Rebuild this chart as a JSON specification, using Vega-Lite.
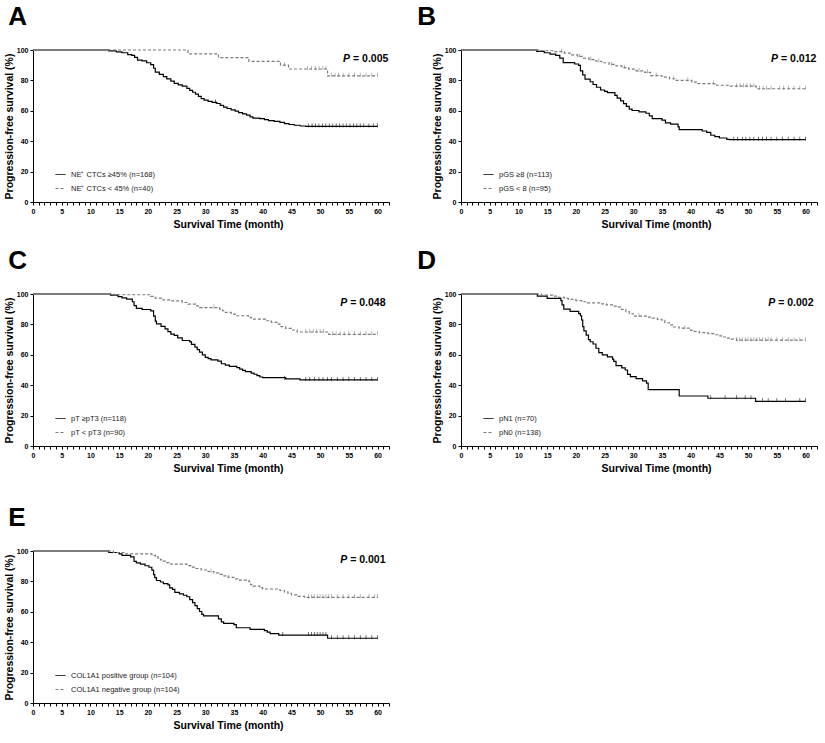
{
"$schema": "https://vega.github.io/schema/vega-lite/v6.json",
"padding": {"left": 4, "top": 4, "right": 4, "bottom": 4},
"background": "white",
"datasets": {
"km": [
{"p":"A","g":"NE⁺ CTCs ≥45% (n=168)","t":0,"s":100},{"p":"A","g":"NE⁺ CTCs ≥45% (n=168)","t":13.2,"s":99.4},{"p":"A","g":"NE⁺ CTCs ≥45% (n=168)","t":14.5,"s":98.8},{"p":"A","g":"NE⁺ CTCs ≥45% (n=168)","t":15.5,"s":98.2},{"p":"A","g":"NE⁺ CTCs ≥45% (n=168)","t":16.5,"s":97},{"p":"A","g":"NE⁺ CTCs ≥45% (n=168)","t":17.2,"s":96.4},{"p":"A","g":"NE⁺ CTCs ≥45% (n=168)","t":17.7,"s":95.2},{"p":"A","g":"NE⁺ CTCs ≥45% (n=168)","t":18.2,"s":93.4},{"p":"A","g":"NE⁺ CTCs ≥45% (n=168)","t":19,"s":92.8},{"p":"A","g":"NE⁺ CTCs ≥45% (n=168)","t":19.8,"s":91.6},{"p":"A","g":"NE⁺ CTCs ≥45% (n=168)","t":20.5,"s":90.4},{"p":"A","g":"NE⁺ CTCs ≥45% (n=168)","t":21,"s":88},{"p":"A","g":"NE⁺ CTCs ≥45% (n=168)","t":21.3,"s":85.5},{"p":"A","g":"NE⁺ CTCs ≥45% (n=168)","t":22,"s":84},{"p":"A","g":"NE⁺ CTCs ≥45% (n=168)","t":22.7,"s":82.5},{"p":"A","g":"NE⁺ CTCs ≥45% (n=168)","t":23.3,"s":81},{"p":"A","g":"NE⁺ CTCs ≥45% (n=168)","t":24,"s":79.5},{"p":"A","g":"NE⁺ CTCs ≥45% (n=168)","t":24.6,"s":78},{"p":"A","g":"NE⁺ CTCs ≥45% (n=168)","t":25.3,"s":77},{"p":"A","g":"NE⁺ CTCs ≥45% (n=168)","t":26,"s":76.2},{"p":"A","g":"NE⁺ CTCs ≥45% (n=168)","t":26.8,"s":74.8},{"p":"A","g":"NE⁺ CTCs ≥45% (n=168)","t":27.3,"s":73.5},{"p":"A","g":"NE⁺ CTCs ≥45% (n=168)","t":27.8,"s":72.2},{"p":"A","g":"NE⁺ CTCs ≥45% (n=168)","t":28.3,"s":71},{"p":"A","g":"NE⁺ CTCs ≥45% (n=168)","t":28.8,"s":69.5},{"p":"A","g":"NE⁺ CTCs ≥45% (n=168)","t":29.3,"s":68},{"p":"A","g":"NE⁺ CTCs ≥45% (n=168)","t":29.8,"s":67},{"p":"A","g":"NE⁺ CTCs ≥45% (n=168)","t":30.5,"s":66.2},{"p":"A","g":"NE⁺ CTCs ≥45% (n=168)","t":31.2,"s":65.5},{"p":"A","g":"NE⁺ CTCs ≥45% (n=168)","t":32,"s":64.8},{"p":"A","g":"NE⁺ CTCs ≥45% (n=168)","t":32.6,"s":63.6},{"p":"A","g":"NE⁺ CTCs ≥45% (n=168)","t":33.2,"s":62.4},{"p":"A","g":"NE⁺ CTCs ≥45% (n=168)","t":33.8,"s":61.5},{"p":"A","g":"NE⁺ CTCs ≥45% (n=168)","t":34.5,"s":60.6},{"p":"A","g":"NE⁺ CTCs ≥45% (n=168)","t":35.2,"s":59.8},{"p":"A","g":"NE⁺ CTCs ≥45% (n=168)","t":35.8,"s":58.8},{"p":"A","g":"NE⁺ CTCs ≥45% (n=168)","t":36.5,"s":58},{"p":"A","g":"NE⁺ CTCs ≥45% (n=168)","t":37.2,"s":57.2},{"p":"A","g":"NE⁺ CTCs ≥45% (n=168)","t":37.8,"s":56},{"p":"A","g":"NE⁺ CTCs ≥45% (n=168)","t":38.3,"s":55.2},{"p":"A","g":"NE⁺ CTCs ≥45% (n=168)","t":39.5,"s":54.8},{"p":"A","g":"NE⁺ CTCs ≥45% (n=168)","t":40.3,"s":54.2},{"p":"A","g":"NE⁺ CTCs ≥45% (n=168)","t":41,"s":53.6},{"p":"A","g":"NE⁺ CTCs ≥45% (n=168)","t":42,"s":53},{"p":"A","g":"NE⁺ CTCs ≥45% (n=168)","t":43,"s":52.4},{"p":"A","g":"NE⁺ CTCs ≥45% (n=168)","t":43.8,"s":51.6},{"p":"A","g":"NE⁺ CTCs ≥45% (n=168)","t":44.6,"s":51},{"p":"A","g":"NE⁺ CTCs ≥45% (n=168)","t":45.5,"s":50.5},{"p":"A","g":"NE⁺ CTCs ≥45% (n=168)","t":46.5,"s":50},{"p":"A","g":"NE⁺ CTCs ≥45% (n=168)","t":47.5,"s":49.7},{"p":"A","g":"NE⁺ CTCs ≥45% (n=168)","t":60,"s":49.7},
{"p":"A","g":"NE⁺ CTCs < 45% (n=40)","t":0,"s":100},{"p":"A","g":"NE⁺ CTCs < 45% (n=40)","t":27,"s":97.5},{"p":"A","g":"NE⁺ CTCs < 45% (n=40)","t":32.3,"s":95},{"p":"A","g":"NE⁺ CTCs < 45% (n=40)","t":37.6,"s":92.5},{"p":"A","g":"NE⁺ CTCs < 45% (n=40)","t":43.1,"s":90},{"p":"A","g":"NE⁺ CTCs < 45% (n=40)","t":44.5,"s":87.5},{"p":"A","g":"NE⁺ CTCs < 45% (n=40)","t":51.3,"s":83},{"p":"A","g":"NE⁺ CTCs < 45% (n=40)","t":60,"s":83},
{"p":"B","g":"pGS ≥8 (n=113)","t":0,"s":100},{"p":"B","g":"pGS ≥8 (n=113)","t":13.2,"s":99.1},{"p":"B","g":"pGS ≥8 (n=113)","t":14.5,"s":98.2},{"p":"B","g":"pGS ≥8 (n=113)","t":15.5,"s":97.3},{"p":"B","g":"pGS ≥8 (n=113)","t":16.5,"s":96.4},{"p":"B","g":"pGS ≥8 (n=113)","t":17.2,"s":94.6},{"p":"B","g":"pGS ≥8 (n=113)","t":17.8,"s":91.7},{"p":"B","g":"pGS ≥8 (n=113)","t":19.8,"s":90.8},{"p":"B","g":"pGS ≥8 (n=113)","t":20.5,"s":89.9},{"p":"B","g":"pGS ≥8 (n=113)","t":20.8,"s":86.3},{"p":"B","g":"pGS ≥8 (n=113)","t":21.2,"s":83.6},{"p":"B","g":"pGS ≥8 (n=113)","t":21.6,"s":80.9},{"p":"B","g":"pGS ≥8 (n=113)","t":22.5,"s":79.1},{"p":"B","g":"pGS ≥8 (n=113)","t":23,"s":77.3},{"p":"B","g":"pGS ≥8 (n=113)","t":23.6,"s":75.5},{"p":"B","g":"pGS ≥8 (n=113)","t":24.3,"s":73.7},{"p":"B","g":"pGS ≥8 (n=113)","t":25,"s":72.8},{"p":"B","g":"pGS ≥8 (n=113)","t":25.5,"s":71.9},{"p":"B","g":"pGS ≥8 (n=113)","t":26.8,"s":70.1},{"p":"B","g":"pGS ≥8 (n=113)","t":27.2,"s":68.3},{"p":"B","g":"pGS ≥8 (n=113)","t":27.8,"s":66.5},{"p":"B","g":"pGS ≥8 (n=113)","t":28.3,"s":64.7},{"p":"B","g":"pGS ≥8 (n=113)","t":28.8,"s":62.9},{"p":"B","g":"pGS ≥8 (n=113)","t":29.3,"s":61.1},{"p":"B","g":"pGS ≥8 (n=113)","t":29.8,"s":60.2},{"p":"B","g":"pGS ≥8 (n=113)","t":31,"s":59.3},{"p":"B","g":"pGS ≥8 (n=113)","t":32.2,"s":58.4},{"p":"B","g":"pGS ≥8 (n=113)","t":32.8,"s":56.6},{"p":"B","g":"pGS ≥8 (n=113)","t":33.3,"s":54.8},{"p":"B","g":"pGS ≥8 (n=113)","t":35,"s":53.9},{"p":"B","g":"pGS ≥8 (n=113)","t":35.6,"s":52.1},{"p":"B","g":"pGS ≥8 (n=113)","t":36.5,"s":51.2},{"p":"B","g":"pGS ≥8 (n=113)","t":37.8,"s":49.4},{"p":"B","g":"pGS ≥8 (n=113)","t":38,"s":47.6},{"p":"B","g":"pGS ≥8 (n=113)","t":42,"s":46.7},{"p":"B","g":"pGS ≥8 (n=113)","t":42.8,"s":45.8},{"p":"B","g":"pGS ≥8 (n=113)","t":43.5,"s":43.9},{"p":"B","g":"pGS ≥8 (n=113)","t":44.2,"s":43},{"p":"B","g":"pGS ≥8 (n=113)","t":45,"s":42.1},{"p":"B","g":"pGS ≥8 (n=113)","t":46.3,"s":41.2},{"p":"B","g":"pGS ≥8 (n=113)","t":46.8,"s":41},{"p":"B","g":"pGS ≥8 (n=113)","t":60,"s":41},
{"p":"B","g":"pGS < 8  (n=95)","t":0,"s":100},{"p":"B","g":"pGS < 8  (n=95)","t":13.5,"s":99.5},{"p":"B","g":"pGS < 8  (n=95)","t":16,"s":98.9},{"p":"B","g":"pGS < 8  (n=95)","t":18,"s":97.9},{"p":"B","g":"pGS < 8  (n=95)","t":19,"s":96.8},{"p":"B","g":"pGS < 8  (n=95)","t":20.3,"s":95.8},{"p":"B","g":"pGS < 8  (n=95)","t":21.3,"s":94.7},{"p":"B","g":"pGS < 8  (n=95)","t":22.3,"s":93.7},{"p":"B","g":"pGS < 8  (n=95)","t":23.5,"s":92.6},{"p":"B","g":"pGS < 8  (n=95)","t":24.5,"s":91.6},{"p":"B","g":"pGS < 8  (n=95)","t":25.8,"s":90.5},{"p":"B","g":"pGS < 8  (n=95)","t":27,"s":89.5},{"p":"B","g":"pGS < 8  (n=95)","t":28,"s":88.4},{"p":"B","g":"pGS < 8  (n=95)","t":29.2,"s":87.4},{"p":"B","g":"pGS < 8  (n=95)","t":30.5,"s":86.3},{"p":"B","g":"pGS < 8  (n=95)","t":32,"s":85.3},{"p":"B","g":"pGS < 8  (n=95)","t":33,"s":83.2},{"p":"B","g":"pGS < 8  (n=95)","t":35,"s":82.1},{"p":"B","g":"pGS < 8  (n=95)","t":36.3,"s":81.1},{"p":"B","g":"pGS < 8  (n=95)","t":37.5,"s":80},{"p":"B","g":"pGS < 8  (n=95)","t":40.2,"s":78.9},{"p":"B","g":"pGS < 8  (n=95)","t":41,"s":77.9},{"p":"B","g":"pGS < 8  (n=95)","t":44.5,"s":76.8},{"p":"B","g":"pGS < 8  (n=95)","t":46.5,"s":76.2},{"p":"B","g":"pGS < 8  (n=95)","t":51.4,"s":74.5},{"p":"B","g":"pGS < 8  (n=95)","t":60,"s":74.5},
{"p":"C","g":"pT ≥pT3 (n=118)","t":0,"s":100},{"p":"C","g":"pT ≥pT3 (n=118)","t":13.5,"s":99.2},{"p":"C","g":"pT ≥pT3 (n=118)","t":14.8,"s":98.3},{"p":"C","g":"pT ≥pT3 (n=118)","t":15.5,"s":97.5},{"p":"C","g":"pT ≥pT3 (n=118)","t":16.3,"s":96.6},{"p":"C","g":"pT ≥pT3 (n=118)","t":17.3,"s":94.9},{"p":"C","g":"pT ≥pT3 (n=118)","t":17.6,"s":92.3},{"p":"C","g":"pT ≥pT3 (n=118)","t":18,"s":90.6},{"p":"C","g":"pT ≥pT3 (n=118)","t":19,"s":89.8},{"p":"C","g":"pT ≥pT3 (n=118)","t":20.5,"s":88.9},{"p":"C","g":"pT ≥pT3 (n=118)","t":21,"s":85.5},{"p":"C","g":"pT ≥pT3 (n=118)","t":21.3,"s":82.1},{"p":"C","g":"pT ≥pT3 (n=118)","t":21.5,"s":80.4},{"p":"C","g":"pT ≥pT3 (n=118)","t":22.3,"s":78.7},{"p":"C","g":"pT ≥pT3 (n=118)","t":23,"s":77},{"p":"C","g":"pT ≥pT3 (n=118)","t":23.5,"s":75.3},{"p":"C","g":"pT ≥pT3 (n=118)","t":24,"s":73.6},{"p":"C","g":"pT ≥pT3 (n=118)","t":24.6,"s":72.8},{"p":"C","g":"pT ≥pT3 (n=118)","t":25.2,"s":71.1},{"p":"C","g":"pT ≥pT3 (n=118)","t":26,"s":69.4},{"p":"C","g":"pT ≥pT3 (n=118)","t":27.3,"s":68.5},{"p":"C","g":"pT ≥pT3 (n=118)","t":27.6,"s":66.8},{"p":"C","g":"pT ≥pT3 (n=118)","t":28.2,"s":65.1},{"p":"C","g":"pT ≥pT3 (n=118)","t":28.6,"s":63.4},{"p":"C","g":"pT ≥pT3 (n=118)","t":29,"s":61.7},{"p":"C","g":"pT ≥pT3 (n=118)","t":29.5,"s":60},{"p":"C","g":"pT ≥pT3 (n=118)","t":30,"s":58.3},{"p":"C","g":"pT ≥pT3 (n=118)","t":30.5,"s":57.5},{"p":"C","g":"pT ≥pT3 (n=118)","t":31,"s":56.6},{"p":"C","g":"pT ≥pT3 (n=118)","t":32.2,"s":55.8},{"p":"C","g":"pT ≥pT3 (n=118)","t":32.8,"s":54.1},{"p":"C","g":"pT ≥pT3 (n=118)","t":33.5,"s":53.2},{"p":"C","g":"pT ≥pT3 (n=118)","t":34.2,"s":52.4},{"p":"C","g":"pT ≥pT3 (n=118)","t":35.5,"s":51.5},{"p":"C","g":"pT ≥pT3 (n=118)","t":36,"s":50.6},{"p":"C","g":"pT ≥pT3 (n=118)","t":36.5,"s":49.8},{"p":"C","g":"pT ≥pT3 (n=118)","t":37,"s":48.9},{"p":"C","g":"pT ≥pT3 (n=118)","t":38,"s":48},{"p":"C","g":"pT ≥pT3 (n=118)","t":38.5,"s":47.2},{"p":"C","g":"pT ≥pT3 (n=118)","t":39,"s":46.3},{"p":"C","g":"pT ≥pT3 (n=118)","t":39.5,"s":45.4},{"p":"C","g":"pT ≥pT3 (n=118)","t":40,"s":45},{"p":"C","g":"pT ≥pT3 (n=118)","t":44,"s":44.2},{"p":"C","g":"pT ≥pT3 (n=118)","t":46.5,"s":43.5},{"p":"C","g":"pT ≥pT3 (n=118)","t":60,"s":43.5},
{"p":"C","g":"pT < pT3 (n=90)","t":0,"s":100},{"p":"C","g":"pT < pT3 (n=90)","t":14,"s":99.5},{"p":"C","g":"pT < pT3 (n=90)","t":20.5,"s":98.4},{"p":"C","g":"pT < pT3 (n=90)","t":21.3,"s":97.3},{"p":"C","g":"pT < pT3 (n=90)","t":22.5,"s":96.2},{"p":"C","g":"pT < pT3 (n=90)","t":24,"s":95.5},{"p":"C","g":"pT < pT3 (n=90)","t":26,"s":94.4},{"p":"C","g":"pT < pT3 (n=90)","t":27,"s":93.3},{"p":"C","g":"pT < pT3 (n=90)","t":28.3,"s":92.2},{"p":"C","g":"pT < pT3 (n=90)","t":29,"s":91.1},{"p":"C","g":"pT < pT3 (n=90)","t":32.5,"s":90},{"p":"C","g":"pT < pT3 (n=90)","t":33,"s":89},{"p":"C","g":"pT < pT3 (n=90)","t":33.5,"s":87.9},{"p":"C","g":"pT < pT3 (n=90)","t":34.5,"s":86.8},{"p":"C","g":"pT < pT3 (n=90)","t":35.5,"s":85.7},{"p":"C","g":"pT < pT3 (n=90)","t":37.5,"s":84.6},{"p":"C","g":"pT < pT3 (n=90)","t":38,"s":83.5},{"p":"C","g":"pT < pT3 (n=90)","t":40.5,"s":82.4},{"p":"C","g":"pT < pT3 (n=90)","t":41.5,"s":81.3},{"p":"C","g":"pT < pT3 (n=90)","t":42.5,"s":80.2},{"p":"C","g":"pT < pT3 (n=90)","t":43,"s":78.5},{"p":"C","g":"pT < pT3 (n=90)","t":44,"s":77.4},{"p":"C","g":"pT < pT3 (n=90)","t":45,"s":76.3},{"p":"C","g":"pT < pT3 (n=90)","t":46,"s":75},{"p":"C","g":"pT < pT3 (n=90)","t":51.5,"s":73.5},{"p":"C","g":"pT < pT3 (n=90)","t":60,"s":73.5},
{"p":"D","g":"pN1 (n=70)","t":0,"s":100},{"p":"D","g":"pN1 (n=70)","t":13.3,"s":98.6},{"p":"D","g":"pN1 (n=70)","t":15,"s":97.1},{"p":"D","g":"pN1 (n=70)","t":17.4,"s":95.7},{"p":"D","g":"pN1 (n=70)","t":17.6,"s":92.9},{"p":"D","g":"pN1 (n=70)","t":17.9,"s":90},{"p":"D","g":"pN1 (n=70)","t":19,"s":88.6},{"p":"D","g":"pN1 (n=70)","t":20.5,"s":87.1},{"p":"D","g":"pN1 (n=70)","t":20.8,"s":85.7},{"p":"D","g":"pN1 (n=70)","t":21,"s":82.9},{"p":"D","g":"pN1 (n=70)","t":21.2,"s":78.6},{"p":"D","g":"pN1 (n=70)","t":21.4,"s":75.7},{"p":"D","g":"pN1 (n=70)","t":21.8,"s":72.9},{"p":"D","g":"pN1 (n=70)","t":22.2,"s":70},{"p":"D","g":"pN1 (n=70)","t":22.5,"s":68.6},{"p":"D","g":"pN1 (n=70)","t":23,"s":67.1},{"p":"D","g":"pN1 (n=70)","t":23.5,"s":64.3},{"p":"D","g":"pN1 (n=70)","t":24,"s":61.4},{"p":"D","g":"pN1 (n=70)","t":24.6,"s":60},{"p":"D","g":"pN1 (n=70)","t":25.5,"s":58.6},{"p":"D","g":"pN1 (n=70)","t":26.4,"s":57.1},{"p":"D","g":"pN1 (n=70)","t":26.6,"s":55.7},{"p":"D","g":"pN1 (n=70)","t":27,"s":52.9},{"p":"D","g":"pN1 (n=70)","t":28,"s":51.4},{"p":"D","g":"pN1 (n=70)","t":28.6,"s":50},{"p":"D","g":"pN1 (n=70)","t":29,"s":47.1},{"p":"D","g":"pN1 (n=70)","t":29.5,"s":45.7},{"p":"D","g":"pN1 (n=70)","t":30.5,"s":44.3},{"p":"D","g":"pN1 (n=70)","t":31.6,"s":42.9},{"p":"D","g":"pN1 (n=70)","t":32.3,"s":41.4},{"p":"D","g":"pN1 (n=70)","t":32.6,"s":37.1},{"p":"D","g":"pN1 (n=70)","t":38,"s":32.9},{"p":"D","g":"pN1 (n=70)","t":43,"s":31.4},{"p":"D","g":"pN1 (n=70)","t":51.3,"s":29.4},{"p":"D","g":"pN1 (n=70)","t":60,"s":29.4},
{"p":"D","g":"pN0 (n=138)","t":0,"s":100},{"p":"D","g":"pN0 (n=138)","t":14,"s":99.3},{"p":"D","g":"pN0 (n=138)","t":16,"s":98.6},{"p":"D","g":"pN0 (n=138)","t":17,"s":97.8},{"p":"D","g":"pN0 (n=138)","t":18,"s":97.1},{"p":"D","g":"pN0 (n=138)","t":18.7,"s":96.4},{"p":"D","g":"pN0 (n=138)","t":20,"s":95.7},{"p":"D","g":"pN0 (n=138)","t":21,"s":94.9},{"p":"D","g":"pN0 (n=138)","t":22,"s":94.2},{"p":"D","g":"pN0 (n=138)","t":24.5,"s":93.5},{"p":"D","g":"pN0 (n=138)","t":25.3,"s":92.8},{"p":"D","g":"pN0 (n=138)","t":26.5,"s":92},{"p":"D","g":"pN0 (n=138)","t":27.3,"s":91.3},{"p":"D","g":"pN0 (n=138)","t":27.8,"s":89.9},{"p":"D","g":"pN0 (n=138)","t":28.7,"s":88.4},{"p":"D","g":"pN0 (n=138)","t":29.3,"s":87},{"p":"D","g":"pN0 (n=138)","t":30,"s":85.5},{"p":"D","g":"pN0 (n=138)","t":32.5,"s":84.8},{"p":"D","g":"pN0 (n=138)","t":33.3,"s":84.1},{"p":"D","g":"pN0 (n=138)","t":34.2,"s":83.3},{"p":"D","g":"pN0 (n=138)","t":35,"s":82.6},{"p":"D","g":"pN0 (n=138)","t":35.5,"s":81.1},{"p":"D","g":"pN0 (n=138)","t":36.3,"s":79.7},{"p":"D","g":"pN0 (n=138)","t":37,"s":78.3},{"p":"D","g":"pN0 (n=138)","t":38,"s":77.5},{"p":"D","g":"pN0 (n=138)","t":40,"s":76.1},{"p":"D","g":"pN0 (n=138)","t":40.5,"s":75.4},{"p":"D","g":"pN0 (n=138)","t":41.5,"s":74.6},{"p":"D","g":"pN0 (n=138)","t":43,"s":73.9},{"p":"D","g":"pN0 (n=138)","t":44,"s":73.2},{"p":"D","g":"pN0 (n=138)","t":44.8,"s":72.5},{"p":"D","g":"pN0 (n=138)","t":45.5,"s":71.7},{"p":"D","g":"pN0 (n=138)","t":46.3,"s":71},{"p":"D","g":"pN0 (n=138)","t":47,"s":70.3},{"p":"D","g":"pN0 (n=138)","t":48,"s":69.6},{"p":"D","g":"pN0 (n=138)","t":60,"s":69.6},
{"p":"E","g":"COL1A1 positive group (n=104)","t":0,"s":100},{"p":"E","g":"COL1A1 positive group (n=104)","t":13.2,"s":99},{"p":"E","g":"COL1A1 positive group (n=104)","t":15,"s":98.1},{"p":"E","g":"COL1A1 positive group (n=104)","t":15.5,"s":97.1},{"p":"E","g":"COL1A1 positive group (n=104)","t":17,"s":96.1},{"p":"E","g":"COL1A1 positive group (n=104)","t":17.6,"s":93.2},{"p":"E","g":"COL1A1 positive group (n=104)","t":18,"s":92.2},{"p":"E","g":"COL1A1 positive group (n=104)","t":18.7,"s":91.3},{"p":"E","g":"COL1A1 positive group (n=104)","t":19.5,"s":90.3},{"p":"E","g":"COL1A1 positive group (n=104)","t":20.2,"s":89.3},{"p":"E","g":"COL1A1 positive group (n=104)","t":20.7,"s":87.4},{"p":"E","g":"COL1A1 positive group (n=104)","t":21,"s":84.5},{"p":"E","g":"COL1A1 positive group (n=104)","t":21.2,"s":82.5},{"p":"E","g":"COL1A1 positive group (n=104)","t":21.5,"s":80.6},{"p":"E","g":"COL1A1 positive group (n=104)","t":22.2,"s":79.6},{"p":"E","g":"COL1A1 positive group (n=104)","t":22.7,"s":78.6},{"p":"E","g":"COL1A1 positive group (n=104)","t":23.5,"s":77.7},{"p":"E","g":"COL1A1 positive group (n=104)","t":23.8,"s":75.7},{"p":"E","g":"COL1A1 positive group (n=104)","t":24.3,"s":74.8},{"p":"E","g":"COL1A1 positive group (n=104)","t":24.7,"s":72.8},{"p":"E","g":"COL1A1 positive group (n=104)","t":25.5,"s":71.8},{"p":"E","g":"COL1A1 positive group (n=104)","t":26.2,"s":70.9},{"p":"E","g":"COL1A1 positive group (n=104)","t":26.8,"s":69.9},{"p":"E","g":"COL1A1 positive group (n=104)","t":27.3,"s":68},{"p":"E","g":"COL1A1 positive group (n=104)","t":27.8,"s":66},{"p":"E","g":"COL1A1 positive group (n=104)","t":28.2,"s":64.1},{"p":"E","g":"COL1A1 positive group (n=104)","t":28.6,"s":62.1},{"p":"E","g":"COL1A1 positive group (n=104)","t":29,"s":60.2},{"p":"E","g":"COL1A1 positive group (n=104)","t":29.4,"s":58.3},{"p":"E","g":"COL1A1 positive group (n=104)","t":29.7,"s":57.3},{"p":"E","g":"COL1A1 positive group (n=104)","t":32.3,"s":55.3},{"p":"E","g":"COL1A1 positive group (n=104)","t":32.8,"s":53.4},{"p":"E","g":"COL1A1 positive group (n=104)","t":33.2,"s":52.4},{"p":"E","g":"COL1A1 positive group (n=104)","t":35,"s":51.5},{"p":"E","g":"COL1A1 positive group (n=104)","t":35.4,"s":49.5},{"p":"E","g":"COL1A1 positive group (n=104)","t":37.8,"s":48.5},{"p":"E","g":"COL1A1 positive group (n=104)","t":40.3,"s":47.6},{"p":"E","g":"COL1A1 positive group (n=104)","t":40.8,"s":46.6},{"p":"E","g":"COL1A1 positive group (n=104)","t":41.3,"s":45.6},{"p":"E","g":"COL1A1 positive group (n=104)","t":42.8,"s":44.7},{"p":"E","g":"COL1A1 positive group (n=104)","t":51.3,"s":42.6},{"p":"E","g":"COL1A1 positive group (n=104)","t":60,"s":42.6},
{"p":"E","g":"COL1A1 negative group (n=104)","t":0,"s":100},{"p":"E","g":"COL1A1 negative group (n=104)","t":14,"s":99},{"p":"E","g":"COL1A1 negative group (n=104)","t":16,"s":98.1},{"p":"E","g":"COL1A1 negative group (n=104)","t":20.7,"s":97.1},{"p":"E","g":"COL1A1 negative group (n=104)","t":21.3,"s":96.1},{"p":"E","g":"COL1A1 negative group (n=104)","t":21.8,"s":95.2},{"p":"E","g":"COL1A1 negative group (n=104)","t":22.2,"s":94.2},{"p":"E","g":"COL1A1 negative group (n=104)","t":22.7,"s":93.3},{"p":"E","g":"COL1A1 negative group (n=104)","t":23.3,"s":92.3},{"p":"E","g":"COL1A1 negative group (n=104)","t":24,"s":91.3},{"p":"E","g":"COL1A1 negative group (n=104)","t":26.8,"s":90.4},{"p":"E","g":"COL1A1 negative group (n=104)","t":27.5,"s":89.4},{"p":"E","g":"COL1A1 negative group (n=104)","t":28.3,"s":88.5},{"p":"E","g":"COL1A1 negative group (n=104)","t":29.3,"s":87.5},{"p":"E","g":"COL1A1 negative group (n=104)","t":30.5,"s":86.5},{"p":"E","g":"COL1A1 negative group (n=104)","t":31.5,"s":85.6},{"p":"E","g":"COL1A1 negative group (n=104)","t":32.3,"s":84.6},{"p":"E","g":"COL1A1 negative group (n=104)","t":33,"s":83.7},{"p":"E","g":"COL1A1 negative group (n=104)","t":34,"s":82.7},{"p":"E","g":"COL1A1 negative group (n=104)","t":35,"s":81.7},{"p":"E","g":"COL1A1 negative group (n=104)","t":36,"s":80.8},{"p":"E","g":"COL1A1 negative group (n=104)","t":37.6,"s":79.8},{"p":"E","g":"COL1A1 negative group (n=104)","t":37.9,"s":77.9},{"p":"E","g":"COL1A1 negative group (n=104)","t":38.3,"s":76.9},{"p":"E","g":"COL1A1 negative group (n=104)","t":39.5,"s":75.9},{"p":"E","g":"COL1A1 negative group (n=104)","t":40,"s":75},{"p":"E","g":"COL1A1 negative group (n=104)","t":43,"s":74},{"p":"E","g":"COL1A1 negative group (n=104)","t":43.8,"s":73.1},{"p":"E","g":"COL1A1 negative group (n=104)","t":44.4,"s":72.1},{"p":"E","g":"COL1A1 negative group (n=104)","t":45,"s":71.1},{"p":"E","g":"COL1A1 negative group (n=104)","t":46,"s":70.2},{"p":"E","g":"COL1A1 negative group (n=104)","t":47.3,"s":69.5},{"p":"E","g":"COL1A1 negative group (n=104)","t":60,"s":69.5}
],
"cens": [
{"p":"A","g":"NE⁺ CTCs ≥45% (n=168)","t":48,"s":49.7},{"p":"A","g":"NE⁺ CTCs ≥45% (n=168)","t":48.6,"s":49.7},{"p":"A","g":"NE⁺ CTCs ≥45% (n=168)","t":49.2,"s":49.7},{"p":"A","g":"NE⁺ CTCs ≥45% (n=168)","t":49.8,"s":49.7},{"p":"A","g":"NE⁺ CTCs ≥45% (n=168)","t":50.4,"s":49.7},{"p":"A","g":"NE⁺ CTCs ≥45% (n=168)","t":51,"s":49.7},{"p":"A","g":"NE⁺ CTCs ≥45% (n=168)","t":51.6,"s":49.7},{"p":"A","g":"NE⁺ CTCs ≥45% (n=168)","t":52.2,"s":49.7},{"p":"A","g":"NE⁺ CTCs ≥45% (n=168)","t":52.8,"s":49.7},{"p":"A","g":"NE⁺ CTCs ≥45% (n=168)","t":53.4,"s":49.7},{"p":"A","g":"NE⁺ CTCs ≥45% (n=168)","t":54,"s":49.7},{"p":"A","g":"NE⁺ CTCs ≥45% (n=168)","t":54.6,"s":49.7},{"p":"A","g":"NE⁺ CTCs ≥45% (n=168)","t":55.2,"s":49.7},{"p":"A","g":"NE⁺ CTCs ≥45% (n=168)","t":55.8,"s":49.7},{"p":"A","g":"NE⁺ CTCs ≥45% (n=168)","t":56.4,"s":49.7},{"p":"A","g":"NE⁺ CTCs ≥45% (n=168)","t":57,"s":49.7},{"p":"A","g":"NE⁺ CTCs ≥45% (n=168)","t":57.6,"s":49.7},{"p":"A","g":"NE⁺ CTCs ≥45% (n=168)","t":58.5,"s":49.7},{"p":"A","g":"NE⁺ CTCs ≥45% (n=168)","t":59.3,"s":49.7},{"p":"A","g":"NE⁺ CTCs ≥45% (n=168)","t":60,"s":49.7},{"p":"A","g":"NE⁺ CTCs ≥45% (n=168)","t":31.8,"s":65.5},
{"p":"A","g":"NE⁺ CTCs < 45% (n=40)","t":43.8,"s":90},{"p":"A","g":"NE⁺ CTCs < 45% (n=40)","t":47.8,"s":87.5},{"p":"A","g":"NE⁺ CTCs < 45% (n=40)","t":48.5,"s":87.5},{"p":"A","g":"NE⁺ CTCs < 45% (n=40)","t":49.2,"s":87.5},{"p":"A","g":"NE⁺ CTCs < 45% (n=40)","t":49.8,"s":87.5},{"p":"A","g":"NE⁺ CTCs < 45% (n=40)","t":50.5,"s":87.5},{"p":"A","g":"NE⁺ CTCs < 45% (n=40)","t":51,"s":87.5},{"p":"A","g":"NE⁺ CTCs < 45% (n=40)","t":52,"s":83},{"p":"A","g":"NE⁺ CTCs < 45% (n=40)","t":52.6,"s":83},{"p":"A","g":"NE⁺ CTCs < 45% (n=40)","t":53.2,"s":83},{"p":"A","g":"NE⁺ CTCs < 45% (n=40)","t":54,"s":83},{"p":"A","g":"NE⁺ CTCs < 45% (n=40)","t":55,"s":83},{"p":"A","g":"NE⁺ CTCs < 45% (n=40)","t":56,"s":83},{"p":"A","g":"NE⁺ CTCs < 45% (n=40)","t":57,"s":83},{"p":"A","g":"NE⁺ CTCs < 45% (n=40)","t":58,"s":83},{"p":"A","g":"NE⁺ CTCs < 45% (n=40)","t":59,"s":83},{"p":"A","g":"NE⁺ CTCs < 45% (n=40)","t":60,"s":83},
{"p":"B","g":"pGS ≥8 (n=113)","t":47.5,"s":41},{"p":"B","g":"pGS ≥8 (n=113)","t":48.2,"s":41},{"p":"B","g":"pGS ≥8 (n=113)","t":49,"s":41},{"p":"B","g":"pGS ≥8 (n=113)","t":49.6,"s":41},{"p":"B","g":"pGS ≥8 (n=113)","t":50.3,"s":41},{"p":"B","g":"pGS ≥8 (n=113)","t":51,"s":41},{"p":"B","g":"pGS ≥8 (n=113)","t":51.8,"s":41},{"p":"B","g":"pGS ≥8 (n=113)","t":52.5,"s":41},{"p":"B","g":"pGS ≥8 (n=113)","t":53.2,"s":41},{"p":"B","g":"pGS ≥8 (n=113)","t":54,"s":41},{"p":"B","g":"pGS ≥8 (n=113)","t":55,"s":41},{"p":"B","g":"pGS ≥8 (n=113)","t":56,"s":41},{"p":"B","g":"pGS ≥8 (n=113)","t":57,"s":41},{"p":"B","g":"pGS ≥8 (n=113)","t":58,"s":41},{"p":"B","g":"pGS ≥8 (n=113)","t":59,"s":41},{"p":"B","g":"pGS ≥8 (n=113)","t":60,"s":41},
{"p":"B","g":"pGS < 8  (n=95)","t":17.5,"s":98.9},{"p":"B","g":"pGS < 8  (n=95)","t":20.6,"s":95.8},{"p":"B","g":"pGS < 8  (n=95)","t":22.6,"s":93.7},{"p":"B","g":"pGS < 8  (n=95)","t":24,"s":92.6},{"p":"B","g":"pGS < 8  (n=95)","t":26.2,"s":90.5},{"p":"B","g":"pGS < 8  (n=95)","t":28.5,"s":88.4},{"p":"B","g":"pGS < 8  (n=95)","t":31,"s":86.3},{"p":"B","g":"pGS < 8  (n=95)","t":32.5,"s":85.3},{"p":"B","g":"pGS < 8  (n=95)","t":34,"s":83.2},{"p":"B","g":"pGS < 8  (n=95)","t":37,"s":81.1},{"p":"B","g":"pGS < 8  (n=95)","t":39.5,"s":80},{"p":"B","g":"pGS < 8  (n=95)","t":44,"s":77.9},{"p":"B","g":"pGS < 8  (n=95)","t":48,"s":76.2},{"p":"B","g":"pGS < 8  (n=95)","t":48.6,"s":76.2},{"p":"B","g":"pGS < 8  (n=95)","t":49.2,"s":76.2},{"p":"B","g":"pGS < 8  (n=95)","t":49.8,"s":76.2},{"p":"B","g":"pGS < 8  (n=95)","t":50.4,"s":76.2},{"p":"B","g":"pGS < 8  (n=95)","t":51,"s":76.2},{"p":"B","g":"pGS < 8  (n=95)","t":52,"s":74.5},{"p":"B","g":"pGS < 8  (n=95)","t":52.6,"s":74.5},{"p":"B","g":"pGS < 8  (n=95)","t":53.2,"s":74.5},{"p":"B","g":"pGS < 8  (n=95)","t":54,"s":74.5},{"p":"B","g":"pGS < 8  (n=95)","t":55.5,"s":74.5},{"p":"B","g":"pGS < 8  (n=95)","t":56.2,"s":74.5},{"p":"B","g":"pGS < 8  (n=95)","t":57,"s":74.5},{"p":"B","g":"pGS < 8  (n=95)","t":58,"s":74.5},{"p":"B","g":"pGS < 8  (n=95)","t":59,"s":74.5},{"p":"B","g":"pGS < 8  (n=95)","t":60,"s":74.5},
{"p":"C","g":"pT ≥pT3 (n=118)","t":43.8,"s":44.2},{"p":"C","g":"pT ≥pT3 (n=118)","t":47.5,"s":43.5},{"p":"C","g":"pT ≥pT3 (n=118)","t":48.2,"s":43.5},{"p":"C","g":"pT ≥pT3 (n=118)","t":49,"s":43.5},{"p":"C","g":"pT ≥pT3 (n=118)","t":49.8,"s":43.5},{"p":"C","g":"pT ≥pT3 (n=118)","t":50.5,"s":43.5},{"p":"C","g":"pT ≥pT3 (n=118)","t":51.3,"s":43.5},{"p":"C","g":"pT ≥pT3 (n=118)","t":52,"s":43.5},{"p":"C","g":"pT ≥pT3 (n=118)","t":53,"s":43.5},{"p":"C","g":"pT ≥pT3 (n=118)","t":54,"s":43.5},{"p":"C","g":"pT ≥pT3 (n=118)","t":55,"s":43.5},{"p":"C","g":"pT ≥pT3 (n=118)","t":56,"s":43.5},{"p":"C","g":"pT ≥pT3 (n=118)","t":57,"s":43.5},{"p":"C","g":"pT ≥pT3 (n=118)","t":58,"s":43.5},{"p":"C","g":"pT ≥pT3 (n=118)","t":59,"s":43.5},{"p":"C","g":"pT ≥pT3 (n=118)","t":60,"s":43.5},
{"p":"C","g":"pT < pT3 (n=90)","t":31.5,"s":91.1},{"p":"C","g":"pT < pT3 (n=90)","t":47.5,"s":75},{"p":"C","g":"pT < pT3 (n=90)","t":48.2,"s":75},{"p":"C","g":"pT < pT3 (n=90)","t":48.8,"s":75},{"p":"C","g":"pT < pT3 (n=90)","t":49.4,"s":75},{"p":"C","g":"pT < pT3 (n=90)","t":50,"s":75},{"p":"C","g":"pT < pT3 (n=90)","t":50.6,"s":75},{"p":"C","g":"pT < pT3 (n=90)","t":52.2,"s":73.5},{"p":"C","g":"pT < pT3 (n=90)","t":52.8,"s":73.5},{"p":"C","g":"pT < pT3 (n=90)","t":53.5,"s":73.5},{"p":"C","g":"pT < pT3 (n=90)","t":54.2,"s":73.5},{"p":"C","g":"pT < pT3 (n=90)","t":55,"s":73.5},{"p":"C","g":"pT < pT3 (n=90)","t":56,"s":73.5},{"p":"C","g":"pT < pT3 (n=90)","t":57,"s":73.5},{"p":"C","g":"pT < pT3 (n=90)","t":58,"s":73.5},{"p":"C","g":"pT < pT3 (n=90)","t":59,"s":73.5},{"p":"C","g":"pT < pT3 (n=90)","t":60,"s":73.5},
{"p":"D","g":"pN1 (n=70)","t":43.5,"s":31.4},{"p":"D","g":"pN1 (n=70)","t":46,"s":31.4},{"p":"D","g":"pN1 (n=70)","t":48,"s":31.4},{"p":"D","g":"pN1 (n=70)","t":49.5,"s":31.4},{"p":"D","g":"pN1 (n=70)","t":50.5,"s":31.4},{"p":"D","g":"pN1 (n=70)","t":52.5,"s":29.4},{"p":"D","g":"pN1 (n=70)","t":53.5,"s":29.4},{"p":"D","g":"pN1 (n=70)","t":55,"s":29.4},{"p":"D","g":"pN1 (n=70)","t":56.5,"s":29.4},{"p":"D","g":"pN1 (n=70)","t":59,"s":29.4},{"p":"D","g":"pN1 (n=70)","t":60,"s":29.4},
{"p":"D","g":"pN0 (n=138)","t":31,"s":85.5},{"p":"D","g":"pN0 (n=138)","t":39,"s":77.5},{"p":"D","g":"pN0 (n=138)","t":48,"s":69.6},{"p":"D","g":"pN0 (n=138)","t":48.5,"s":69.6},{"p":"D","g":"pN0 (n=138)","t":49,"s":69.6},{"p":"D","g":"pN0 (n=138)","t":49.5,"s":69.6},{"p":"D","g":"pN0 (n=138)","t":50,"s":69.6},{"p":"D","g":"pN0 (n=138)","t":50.5,"s":69.6},{"p":"D","g":"pN0 (n=138)","t":51,"s":69.6},{"p":"D","g":"pN0 (n=138)","t":51.5,"s":69.6},{"p":"D","g":"pN0 (n=138)","t":52,"s":69.6},{"p":"D","g":"pN0 (n=138)","t":52.5,"s":69.6},{"p":"D","g":"pN0 (n=138)","t":53,"s":69.6},{"p":"D","g":"pN0 (n=138)","t":53.5,"s":69.6},{"p":"D","g":"pN0 (n=138)","t":54,"s":69.6},{"p":"D","g":"pN0 (n=138)","t":55,"s":69.6},{"p":"D","g":"pN0 (n=138)","t":56,"s":69.6},{"p":"D","g":"pN0 (n=138)","t":57,"s":69.6},{"p":"D","g":"pN0 (n=138)","t":58,"s":69.6},{"p":"D","g":"pN0 (n=138)","t":59,"s":69.6},{"p":"D","g":"pN0 (n=138)","t":60,"s":69.6},
{"p":"E","g":"COL1A1 positive group (n=104)","t":43.5,"s":44.7},{"p":"E","g":"COL1A1 positive group (n=104)","t":48,"s":44.7},{"p":"E","g":"COL1A1 positive group (n=104)","t":48.5,"s":44.7},{"p":"E","g":"COL1A1 positive group (n=104)","t":49,"s":44.7},{"p":"E","g":"COL1A1 positive group (n=104)","t":49.5,"s":44.7},{"p":"E","g":"COL1A1 positive group (n=104)","t":50,"s":44.7},{"p":"E","g":"COL1A1 positive group (n=104)","t":50.5,"s":44.7},{"p":"E","g":"COL1A1 positive group (n=104)","t":51,"s":44.7},{"p":"E","g":"COL1A1 positive group (n=104)","t":52,"s":42.6},{"p":"E","g":"COL1A1 positive group (n=104)","t":53,"s":42.6},{"p":"E","g":"COL1A1 positive group (n=104)","t":54,"s":42.6},{"p":"E","g":"COL1A1 positive group (n=104)","t":55,"s":42.6},{"p":"E","g":"COL1A1 positive group (n=104)","t":56,"s":42.6},{"p":"E","g":"COL1A1 positive group (n=104)","t":57,"s":42.6},{"p":"E","g":"COL1A1 positive group (n=104)","t":58,"s":42.6},{"p":"E","g":"COL1A1 positive group (n=104)","t":59,"s":42.6},{"p":"E","g":"COL1A1 positive group (n=104)","t":60,"s":42.6},
{"p":"E","g":"COL1A1 negative group (n=104)","t":31,"s":86.5},{"p":"E","g":"COL1A1 negative group (n=104)","t":48,"s":69.5},{"p":"E","g":"COL1A1 negative group (n=104)","t":48.5,"s":69.5},{"p":"E","g":"COL1A1 negative group (n=104)","t":49,"s":69.5},{"p":"E","g":"COL1A1 negative group (n=104)","t":49.5,"s":69.5},{"p":"E","g":"COL1A1 negative group (n=104)","t":50,"s":69.5},{"p":"E","g":"COL1A1 negative group (n=104)","t":50.5,"s":69.5},{"p":"E","g":"COL1A1 negative group (n=104)","t":51,"s":69.5},{"p":"E","g":"COL1A1 negative group (n=104)","t":51.5,"s":69.5},{"p":"E","g":"COL1A1 negative group (n=104)","t":52,"s":69.5},{"p":"E","g":"COL1A1 negative group (n=104)","t":53,"s":69.5},{"p":"E","g":"COL1A1 negative group (n=104)","t":54,"s":69.5},{"p":"E","g":"COL1A1 negative group (n=104)","t":55,"s":69.5},{"p":"E","g":"COL1A1 negative group (n=104)","t":56,"s":69.5},{"p":"E","g":"COL1A1 negative group (n=104)","t":57,"s":69.5},{"p":"E","g":"COL1A1 negative group (n=104)","t":58.5,"s":69.5},{"p":"E","g":"COL1A1 negative group (n=104)","t":59.5,"s":69.5},{"p":"E","g":"COL1A1 negative group (n=104)","t":60,"s":69.5}
],
"pv": [
{"p":"A","t":54.0,"s":94,"v":"= 0.005"},
{"p":"B","t":54.0,"s":94,"v":"= 0.012"},
{"p":"C","t":53.5,"s":94,"v":"= 0.048"},
{"p":"D","t":53.5,"s":94,"v":"= 0.002"},
{"p":"E","t":53.5,"s":94,"v":"= 0.001"}
]
},
"vconcat": [
{"vconcat": [
{"hconcat": [
{"width": 356, "height": 152,
 "title": {"text": "A", "dx": 4},
 "encoding": {
  "x": {"field": "t", "type": "quantitative", "scale": {"domain": [0, 62], "nice": false}, "axis": {"title": "Survival Time (month)", "values": [0,1,2,3,4,5,6,7,8,9,10,11,12,13,14,15,16,17,18,19,20,21,22,23,24,25,26,27,28,29,30,31,32,33,34,35,36,37,38,39,40,41,42,43,44,45,46,47,48,49,50,51,52,53,54,55,56,57,58,59,60,61,62], "labelExpr": "datum.value % 5 === 0 ? datum.label : ''", "titleX": 195}},
  "y": {"field": "s", "type": "quantitative", "scale": {"domain": [0, 100], "nice": false}, "axis": {"title": "Progression-free survival (%)", "values": [0,20,40,60,80,100]}}
 },
 "layer": [
  {"data": {"name": "km"}, "transform": [{"filter": "datum.p === 'A'"}],
   "mark": {"type": "line", "interpolate": "step-after", "strokeWidth": 1.2},
   "encoding": {
    "color": {"field": "g", "type": "nominal", "scale": {"domain": ["NE⁺ CTCs ≥45% (n=168)", "NE⁺ CTCs < 45% (n=40)"], "range": ["#000000", "#7a7a7a"]}, "legend": {"title": null}},
    "strokeDash": {"field": "g", "type": "nominal", "scale": {"domain": ["NE⁺ CTCs ≥45% (n=168)", "NE⁺ CTCs < 45% (n=40)"], "range": [[1, 0], [3, 2]]}, "legend": {"title": null}}
   }},
  {"data": {"name": "cens"}, "transform": [{"filter": "datum.p === 'A'"}],
   "mark": {"type": "tick", "orient": "vertical", "size": 4, "thickness": 0.8, "yOffset": -1},
   "encoding": {"color": {"field": "g", "type": "nominal", "legend": null}}},
  {"data": {"name": "pv"}, "transform": [{"filter": "datum.p === 'A'"}],
   "mark": {"type": "text", "text": "P", "fontStyle": "italic", "fontWeight": "bold", "fontSize": 10.5, "align": "left", "baseline": "middle", "color": "#000"}},
  {"data": {"name": "pv"}, "transform": [{"filter": "datum.p === 'A'"}],
   "mark": {"type": "text", "fontWeight": "bold", "fontSize": 10.5, "align": "left", "baseline": "middle", "dx": 10, "color": "#000"},
   "encoding": {"text": {"field": "v"}}}
 ]},
{"width": 356, "height": 152,
 "title": {"text": "B", "dx": -15},
 "encoding": {
  "x": {"field": "t", "type": "quantitative", "scale": {"domain": [0, 62], "nice": false}, "axis": {"title": "Survival Time (month)", "values": [0,1,2,3,4,5,6,7,8,9,10,11,12,13,14,15,16,17,18,19,20,21,22,23,24,25,26,27,28,29,30,31,32,33,34,35,36,37,38,39,40,41,42,43,44,45,46,47,48,49,50,51,52,53,54,55,56,57,58,59,60,61,62], "labelExpr": "datum.value % 5 === 0 ? datum.label : ''", "titleX": 195}},
  "y": {"field": "s", "type": "quantitative", "scale": {"domain": [0, 100], "nice": false}, "axis": {"title": "Progression-free survival (%)", "values": [0,20,40,60,80,100]}}
 },
 "layer": [
  {"data": {"name": "km"}, "transform": [{"filter": "datum.p === 'B'"}],
   "mark": {"type": "line", "interpolate": "step-after", "strokeWidth": 1.2},
   "encoding": {
    "color": {"field": "g", "type": "nominal", "scale": {"domain": ["pGS ≥8 (n=113)", "pGS < 8  (n=95)"], "range": ["#000000", "#7a7a7a"]}, "legend": {"title": null}},
    "strokeDash": {"field": "g", "type": "nominal", "scale": {"domain": ["pGS ≥8 (n=113)", "pGS < 8  (n=95)"], "range": [[1, 0], [3, 2]]}, "legend": {"title": null}}
   }},
  {"data": {"name": "cens"}, "transform": [{"filter": "datum.p === 'B'"}],
   "mark": {"type": "tick", "orient": "vertical", "size": 4, "thickness": 0.8, "yOffset": -1},
   "encoding": {"color": {"field": "g", "type": "nominal", "legend": null}}},
  {"data": {"name": "pv"}, "transform": [{"filter": "datum.p === 'B'"}],
   "mark": {"type": "text", "text": "P", "fontStyle": "italic", "fontWeight": "bold", "fontSize": 10.5, "align": "left", "baseline": "middle", "color": "#000"}},
  {"data": {"name": "pv"}, "transform": [{"filter": "datum.p === 'B'"}],
   "mark": {"type": "text", "fontWeight": "bold", "fontSize": 10.5, "align": "left", "baseline": "middle", "dx": 10, "color": "#000"},
   "encoding": {"text": {"field": "v"}}}
 ]}
], "spacing": 27, "resolve": {"scale": {"x": "independent", "y": "independent", "color": "independent", "strokeDash": "independent"}, "legend": {"color": "independent", "strokeDash": "independent"}}},
{"hconcat": [
{"width": 356, "height": 152,
 "title": {"text": "C", "dx": 4},
 "encoding": {
  "x": {"field": "t", "type": "quantitative", "scale": {"domain": [0, 62], "nice": false}, "axis": {"title": "Survival Time (month)", "values": [0,1,2,3,4,5,6,7,8,9,10,11,12,13,14,15,16,17,18,19,20,21,22,23,24,25,26,27,28,29,30,31,32,33,34,35,36,37,38,39,40,41,42,43,44,45,46,47,48,49,50,51,52,53,54,55,56,57,58,59,60,61,62], "labelExpr": "datum.value % 5 === 0 ? datum.label : ''", "titleX": 195}},
  "y": {"field": "s", "type": "quantitative", "scale": {"domain": [0, 100], "nice": false}, "axis": {"title": "Progression-free survival (%)", "values": [0,20,40,60,80,100]}}
 },
 "layer": [
  {"data": {"name": "km"}, "transform": [{"filter": "datum.p === 'C'"}],
   "mark": {"type": "line", "interpolate": "step-after", "strokeWidth": 1.2},
   "encoding": {
    "color": {"field": "g", "type": "nominal", "scale": {"domain": ["pT ≥pT3 (n=118)", "pT < pT3 (n=90)"], "range": ["#000000", "#7a7a7a"]}, "legend": {"title": null}},
    "strokeDash": {"field": "g", "type": "nominal", "scale": {"domain": ["pT ≥pT3 (n=118)", "pT < pT3 (n=90)"], "range": [[1, 0], [3, 2]]}, "legend": {"title": null}}
   }},
  {"data": {"name": "cens"}, "transform": [{"filter": "datum.p === 'C'"}],
   "mark": {"type": "tick", "orient": "vertical", "size": 4, "thickness": 0.8, "yOffset": -1},
   "encoding": {"color": {"field": "g", "type": "nominal", "legend": null}}},
  {"data": {"name": "pv"}, "transform": [{"filter": "datum.p === 'C'"}],
   "mark": {"type": "text", "text": "P", "fontStyle": "italic", "fontWeight": "bold", "fontSize": 10.5, "align": "left", "baseline": "middle", "color": "#000"}},
  {"data": {"name": "pv"}, "transform": [{"filter": "datum.p === 'C'"}],
   "mark": {"type": "text", "fontWeight": "bold", "fontSize": 10.5, "align": "left", "baseline": "middle", "dx": 10, "color": "#000"},
   "encoding": {"text": {"field": "v"}}}
 ]},
{"width": 356, "height": 152,
 "title": {"text": "D", "dx": -15},
 "encoding": {
  "x": {"field": "t", "type": "quantitative", "scale": {"domain": [0, 62], "nice": false}, "axis": {"title": "Survival Time (month)", "values": [0,1,2,3,4,5,6,7,8,9,10,11,12,13,14,15,16,17,18,19,20,21,22,23,24,25,26,27,28,29,30,31,32,33,34,35,36,37,38,39,40,41,42,43,44,45,46,47,48,49,50,51,52,53,54,55,56,57,58,59,60,61,62], "labelExpr": "datum.value % 5 === 0 ? datum.label : ''", "titleX": 195}},
  "y": {"field": "s", "type": "quantitative", "scale": {"domain": [0, 100], "nice": false}, "axis": {"title": "Progression-free survival (%)", "values": [0,20,40,60,80,100]}}
 },
 "layer": [
  {"data": {"name": "km"}, "transform": [{"filter": "datum.p === 'D'"}],
   "mark": {"type": "line", "interpolate": "step-after", "strokeWidth": 1.2},
   "encoding": {
    "color": {"field": "g", "type": "nominal", "scale": {"domain": ["pN1 (n=70)", "pN0 (n=138)"], "range": ["#000000", "#7a7a7a"]}, "legend": {"title": null}},
    "strokeDash": {"field": "g", "type": "nominal", "scale": {"domain": ["pN1 (n=70)", "pN0 (n=138)"], "range": [[1, 0], [3, 2]]}, "legend": {"title": null}}
   }},
  {"data": {"name": "cens"}, "transform": [{"filter": "datum.p === 'D'"}],
   "mark": {"type": "tick", "orient": "vertical", "size": 4, "thickness": 0.8, "yOffset": -1},
   "encoding": {"color": {"field": "g", "type": "nominal", "legend": null}}},
  {"data": {"name": "pv"}, "transform": [{"filter": "datum.p === 'D'"}],
   "mark": {"type": "text", "text": "P", "fontStyle": "italic", "fontWeight": "bold", "fontSize": 10.5, "align": "left", "baseline": "middle", "color": "#000"}},
  {"data": {"name": "pv"}, "transform": [{"filter": "datum.p === 'D'"}],
   "mark": {"type": "text", "fontWeight": "bold", "fontSize": 10.5, "align": "left", "baseline": "middle", "dx": 10, "color": "#000"},
   "encoding": {"text": {"field": "v"}}}
 ]}
], "spacing": 27, "resolve": {"scale": {"x": "independent", "y": "independent", "color": "independent", "strokeDash": "independent"}, "legend": {"color": "independent", "strokeDash": "independent"}}}
], "spacing": 18, "resolve": {"scale": {"x": "independent", "y": "independent", "color": "independent", "strokeDash": "independent"}, "legend": {"color": "independent", "strokeDash": "independent"}}},
{"width": 356, "height": 152,
 "title": {"text": "E", "dx": 4},
 "encoding": {
  "x": {"field": "t", "type": "quantitative", "scale": {"domain": [0, 62], "nice": false}, "axis": {"title": "Survival Time (month)", "values": [0,1,2,3,4,5,6,7,8,9,10,11,12,13,14,15,16,17,18,19,20,21,22,23,24,25,26,27,28,29,30,31,32,33,34,35,36,37,38,39,40,41,42,43,44,45,46,47,48,49,50,51,52,53,54,55,56,57,58,59,60,61,62], "labelExpr": "datum.value % 5 === 0 ? datum.label : ''", "titleX": 195}},
  "y": {"field": "s", "type": "quantitative", "scale": {"domain": [0, 100], "nice": false}, "axis": {"title": "Progression-free survival (%)", "values": [0,20,40,60,80,100]}}
 },
 "layer": [
  {"data": {"name": "km"}, "transform": [{"filter": "datum.p === 'E'"}],
   "mark": {"type": "line", "interpolate": "step-after", "strokeWidth": 1.2},
   "encoding": {
    "color": {"field": "g", "type": "nominal", "scale": {"domain": ["COL1A1 positive group (n=104)", "COL1A1 negative group (n=104)"], "range": ["#000000", "#7a7a7a"]}, "legend": {"title": null}},
    "strokeDash": {"field": "g", "type": "nominal", "scale": {"domain": ["COL1A1 positive group (n=104)", "COL1A1 negative group (n=104)"], "range": [[1, 0], [3, 2]]}, "legend": {"title": null}}
   }},
  {"data": {"name": "cens"}, "transform": [{"filter": "datum.p === 'E'"}],
   "mark": {"type": "tick", "orient": "vertical", "size": 4, "thickness": 0.8, "yOffset": -1},
   "encoding": {"color": {"field": "g", "type": "nominal", "legend": null}}},
  {"data": {"name": "pv"}, "transform": [{"filter": "datum.p === 'E'"}],
   "mark": {"type": "text", "text": "P", "fontStyle": "italic", "fontWeight": "bold", "fontSize": 10.5, "align": "left", "baseline": "middle", "color": "#000"}},
  {"data": {"name": "pv"}, "transform": [{"filter": "datum.p === 'E'"}],
   "mark": {"type": "text", "fontWeight": "bold", "fontSize": 10.5, "align": "left", "baseline": "middle", "dx": 10, "color": "#000"},
   "encoding": {"text": {"field": "v"}}}
 ]}
],
"spacing": 31,
"resolve": {"scale": {"x": "independent", "y": "independent", "color": "independent", "strokeDash": "independent"}, "legend": {"color": "independent", "strokeDash": "independent"}},
"config": {
 "font": "Liberation Sans",
 "view": {"stroke": null},
 "title": {"anchor": "start", "fontSize": 26, "fontWeight": "bold", "font": "Liberation Sans", "color": "#000", "offset": 16},
 "axis": {"domainColor": "#000", "domainWidth": 1, "tickColor": "#000", "tickWidth": 1, "tickSize": 3, "labelFontSize": 7, "labelFontWeight": "bold", "labelColor": "#000", "labelPadding": 2, "labelFont": "Liberation Sans", "labelOverlap": false, "labelFlush": false, "labelBound": false, "titleFontSize": 10.5, "titleFontWeight": "bold", "titleColor": "#000", "titleFont": "Liberation Sans", "grid": false},
 "axisX": {"titlePadding": 5},
 "axisY": {"titlePadding": 2},
 "legend": {"orient": "none", "legendX": 22, "legendY": 119, "labelFontSize": 7.5, "labelFont": "Liberation Sans", "labelColor": "#222", "symbolType": "stroke", "symbolSize": 100, "symbolStrokeWidth": 1, "rowPadding": 5, "labelOffset": 5}
}
}
